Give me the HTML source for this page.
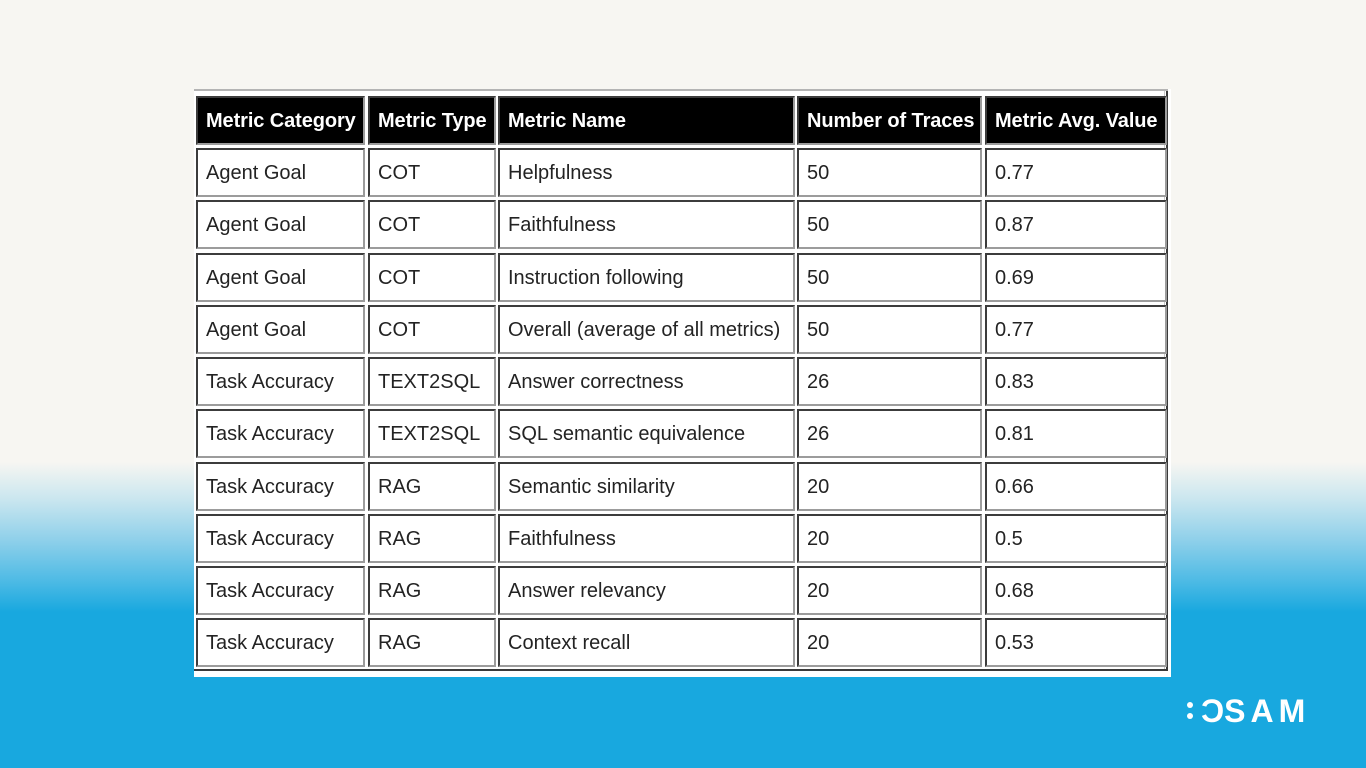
<!DOCTYPE html>
<html><head><meta charset="utf-8">
<style>
html,body{margin:0;padding:0}
body{width:1366px;height:768px;position:relative;overflow:hidden;
background:linear-gradient(to bottom,#f7f6f2 0px,#f7f6f2 462px,#c9e6ef 500px,#8fd0ea 540px,#4fbbe5 580px,#18a8df 612px,#18a8df 768px);
font-family:"Liberation Sans",sans-serif;}
.panel{position:absolute;left:194px;top:89px;width:977px;height:588px;background:#fff;}
.ptop{position:absolute;left:194px;top:89px;width:974px;height:2px;background:#b4b4b4;}
.pright{position:absolute;left:1166px;top:91px;width:2px;height:580px;background:#3a3a3a;}
.pright2{position:absolute;left:1164px;top:91px;width:1px;height:578px;background:#c8c8c8;}
.pbot{position:absolute;left:194px;top:669px;width:974px;height:2px;background:#3a3a3a;}
.c{position:absolute;box-sizing:border-box;border-top:2px solid #3c3c3c;border-left:2px solid #3c3c3c;border-right:2px solid #9c9c9c;border-bottom:2px solid #9c9c9c;padding-left:8px;padding-top:2px;display:flex;align-items:center;font-size:20px;color:#232323;white-space:nowrap;background:#fff;}
.h{background:#000;color:#fff;font-weight:bold;letter-spacing:-0.1px;}
.logo{position:absolute;left:1196px;top:693px;height:36px;color:#fff;font-weight:bold;font-size:32px;letter-spacing:5px;line-height:36px;white-space:nowrap;}
.logo .rc{display:inline-block;transform:scaleX(-1);}
.dot{position:absolute;width:6px;height:6px;border-radius:50%;background:#fff;}
</style></head><body>
<div class="panel"></div>
<div class="ptop"></div>
<div class="pright2"></div>
<div class="pright"></div>
<div class="pbot"></div>

<!-- header -->
<div class="c h" style="left:196px;top:96px;width:169px;height:49px;">Metric Category</div>
<div class="c h" style="left:368px;top:96px;width:128px;height:49px;">Metric Type</div>
<div class="c h" style="left:498px;top:96px;width:297px;height:49px;">Metric Name</div>
<div class="c h" style="left:797px;top:96px;width:185px;height:49px;">Number of Traces</div>
<div class="c h" style="left:985px;top:96px;width:182px;height:49px;">Metric Avg. Value</div>

<!-- row 1 -->
<div class="c" style="left:196px;top:148px;width:169px;height:49px;">Agent Goal</div>
<div class="c" style="left:368px;top:148px;width:128px;height:49px;">COT</div>
<div class="c" style="left:498px;top:148px;width:297px;height:49px;">Helpfulness</div>
<div class="c" style="left:797px;top:148px;width:185px;height:49px;">50</div>
<div class="c" style="left:985px;top:148px;width:182px;height:49px;">0.77</div>
<!-- row 2 -->
<div class="c" style="left:196px;top:200px;width:169px;height:49px;">Agent Goal</div>
<div class="c" style="left:368px;top:200px;width:128px;height:49px;">COT</div>
<div class="c" style="left:498px;top:200px;width:297px;height:49px;">Faithfulness</div>
<div class="c" style="left:797px;top:200px;width:185px;height:49px;">50</div>
<div class="c" style="left:985px;top:200px;width:182px;height:49px;">0.87</div>
<!-- row 3 -->
<div class="c" style="left:196px;top:253px;width:169px;height:49px;">Agent Goal</div>
<div class="c" style="left:368px;top:253px;width:128px;height:49px;">COT</div>
<div class="c" style="left:498px;top:253px;width:297px;height:49px;">Instruction following</div>
<div class="c" style="left:797px;top:253px;width:185px;height:49px;">50</div>
<div class="c" style="left:985px;top:253px;width:182px;height:49px;">0.69</div>
<!-- row 4 -->
<div class="c" style="left:196px;top:305px;width:169px;height:49px;">Agent Goal</div>
<div class="c" style="left:368px;top:305px;width:128px;height:49px;">COT</div>
<div class="c" style="left:498px;top:305px;width:297px;height:49px;">Overall (average of all metrics)</div>
<div class="c" style="left:797px;top:305px;width:185px;height:49px;">50</div>
<div class="c" style="left:985px;top:305px;width:182px;height:49px;">0.77</div>
<!-- row 5 -->
<div class="c" style="left:196px;top:357px;width:169px;height:49px;">Task Accuracy</div>
<div class="c" style="left:368px;top:357px;width:128px;height:49px;">TEXT2SQL</div>
<div class="c" style="left:498px;top:357px;width:297px;height:49px;">Answer correctness</div>
<div class="c" style="left:797px;top:357px;width:185px;height:49px;">26</div>
<div class="c" style="left:985px;top:357px;width:182px;height:49px;">0.83</div>
<!-- row 6 -->
<div class="c" style="left:196px;top:409px;width:169px;height:49px;">Task Accuracy</div>
<div class="c" style="left:368px;top:409px;width:128px;height:49px;">TEXT2SQL</div>
<div class="c" style="left:498px;top:409px;width:297px;height:49px;">SQL semantic equivalence</div>
<div class="c" style="left:797px;top:409px;width:185px;height:49px;">26</div>
<div class="c" style="left:985px;top:409px;width:182px;height:49px;">0.81</div>
<!-- row 7 -->
<div class="c" style="left:196px;top:462px;width:169px;height:49px;">Task Accuracy</div>
<div class="c" style="left:368px;top:462px;width:128px;height:49px;">RAG</div>
<div class="c" style="left:498px;top:462px;width:297px;height:49px;">Semantic similarity</div>
<div class="c" style="left:797px;top:462px;width:185px;height:49px;">20</div>
<div class="c" style="left:985px;top:462px;width:182px;height:49px;">0.66</div>
<!-- row 8 -->
<div class="c" style="left:196px;top:514px;width:169px;height:49px;">Task Accuracy</div>
<div class="c" style="left:368px;top:514px;width:128px;height:49px;">RAG</div>
<div class="c" style="left:498px;top:514px;width:297px;height:49px;">Faithfulness</div>
<div class="c" style="left:797px;top:514px;width:185px;height:49px;">20</div>
<div class="c" style="left:985px;top:514px;width:182px;height:49px;">0.5</div>
<!-- row 9 -->
<div class="c" style="left:196px;top:566px;width:169px;height:49px;">Task Accuracy</div>
<div class="c" style="left:368px;top:566px;width:128px;height:49px;">RAG</div>
<div class="c" style="left:498px;top:566px;width:297px;height:49px;">Answer relevancy</div>
<div class="c" style="left:797px;top:566px;width:185px;height:49px;">20</div>
<div class="c" style="left:985px;top:566px;width:182px;height:49px;">0.68</div>
<!-- row 10 -->
<div class="c" style="left:196px;top:618px;width:169px;height:49px;">Task Accuracy</div>
<div class="c" style="left:368px;top:618px;width:128px;height:49px;">RAG</div>
<div class="c" style="left:498px;top:618px;width:297px;height:49px;">Context recall</div>
<div class="c" style="left:797px;top:618px;width:185px;height:49px;">20</div>
<div class="c" style="left:985px;top:618px;width:182px;height:49px;">0.53</div>

<!-- logo -->
<div class="dot" style="left:1187px;top:702px;"></div>
<div class="dot" style="left:1187px;top:713px;"></div>
<div class="logo"><span class="rc">C</span>SAM</div>
</body></html>
